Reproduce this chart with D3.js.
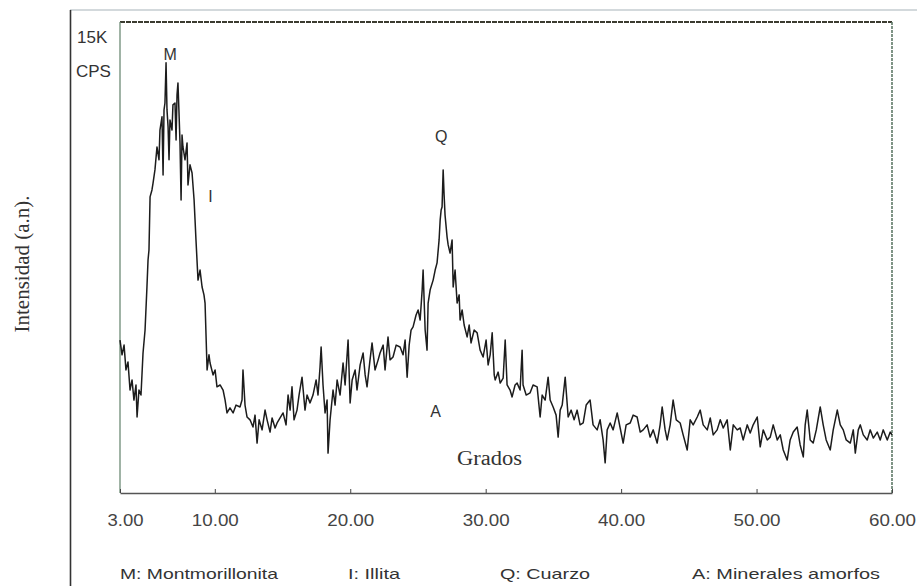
<html>
<head>
    <title>Difractograma</title>
    <style>
        body { margin: 0; background: white; }
        svg { display: block; }
    </style>
</head>
<body>
    <svg id="container" width="917" height="586"></svg>
    <script src="https://d3js.org/d3.v7.min.js"></script>
    <script>
        // 2-theta angles (degrees) and intensity (counts per second)
        let twoTheta = [
            3.00, 3.15, 3.30, 3.44, 3.59, 3.74, 3.89, 4.03, 4.18, 4.26, 4.40, 4.55, 4.70, 4.85, 4.99,
            5.07, 5.14, 5.22, 5.36, 5.44, 5.58, 5.73, 5.88, 5.95, 6.10, 6.18, 6.25, 6.32, 6.40, 6.47,
            6.55, 6.62, 6.69, 6.84, 6.91, 7.06, 7.14, 7.21, 7.28, 7.35, 7.43, 7.51, 7.58, 7.65, 7.80,
            7.95, 8.02, 8.17, 8.32, 8.47, 8.54, 8.61, 8.76, 8.91, 9.06, 9.20, 9.28, 9.43, 9.57, 9.65,
            9.87, 10.02, 10.16, 10.39, 10.61, 10.76, 10.90, 11.12, 11.35, 11.57, 11.86, 12.01, 12.08, 12.23, 12.38,
            12.60, 12.82, 12.97, 13.12, 13.27, 13.49, 13.71, 13.86, 14.08, 14.23, 14.45, 14.60, 14.82, 15.04, 15.26,
            15.41, 15.56, 15.70, 15.85, 16.07, 16.22, 16.44, 16.66, 16.81, 17.03, 17.25, 17.48, 17.62, 17.77, 17.85,
            17.99, 18.14, 18.29, 18.36, 18.51, 18.73, 18.88, 19.03, 19.25, 19.47, 19.62, 19.84, 19.99, 20.14, 20.36,
            20.50, 20.73, 20.95, 21.10, 21.24, 21.46, 21.61, 21.83, 22.06, 22.20, 22.43, 22.57, 22.79, 22.94, 23.16,
            23.39, 23.68, 23.90, 24.05, 24.20, 24.35, 24.49, 24.64, 24.86, 25.01, 25.16, 25.31, 25.38, 25.53, 25.67,
            25.75, 25.90, 26.12, 26.27, 26.41, 26.56, 26.64, 26.71, 26.78, 26.86, 26.93, 27.00, 27.15, 27.23, 27.37,
            27.52, 27.60, 27.74, 27.89, 28.04, 28.11, 28.26, 28.41, 28.63, 28.78, 28.92, 29.15, 29.37, 29.59, 29.81,
            30.03, 30.18, 30.33, 30.48, 30.63, 30.70, 30.92, 31.07, 31.29, 31.44, 31.58, 31.80, 31.95, 32.17, 32.32,
            32.54, 32.69, 32.76, 32.99, 33.28, 33.50, 33.80, 34.02, 34.17, 34.39, 34.61, 34.76, 34.98, 35.20, 35.35,
            35.50, 35.65, 35.87, 36.09, 36.31, 36.53, 36.75, 36.97, 37.20, 37.42, 37.71, 37.93, 38.23, 38.45, 38.67,
            38.82, 38.97, 39.19, 39.41, 39.71, 39.93, 40.15, 40.37, 40.67, 40.89, 41.18, 41.41, 41.63, 41.92, 42.14,
            42.37, 42.66, 42.88, 43.03, 43.25, 43.40, 43.62, 43.84, 44.07, 44.36, 44.58, 44.88, 45.10, 45.32, 45.62,
            45.84, 46.06, 46.36, 46.58, 46.80, 47.09, 47.32, 47.54, 47.83, 48.06, 48.28, 48.57, 48.79, 49.01, 49.31,
            49.53, 49.75, 50.05, 50.27, 50.49, 50.79, 51.01, 51.23, 51.53, 51.75, 51.97, 52.26, 52.48, 52.71, 53.00,
            53.22, 53.45, 53.59, 53.74, 53.96, 54.18, 54.41, 54.70, 54.92, 55.14, 55.44, 55.66, 55.96, 56.18, 56.40,
            56.62, 56.92, 57.14, 57.29, 57.51, 57.66, 57.88, 58.17, 58.39, 58.62, 58.91, 59.13, 59.35, 59.65, 59.87,
            60.00
        ]
        let cps = [
            4870, 4400, 4710, 3920, 4170, 3280, 3600, 2960, 3440, 2420, 3280, 3120, 4460, 5190, 6560,
            7420, 7740, 9430, 9650, 9870, 10290, 11020, 10610, 11560, 11980, 10130, 12200, 12420, 13700, 12200,
            11660, 10610, 11880, 11560, 12360, 12420, 11240, 12680, 13060, 12200, 11150, 9330, 11400, 11020, 10610,
            11150, 9810, 10450, 10190, 9330, 8700, 8060, 6780, 7100, 6560, 6310, 6050, 3920, 4400, 4140,
            3760, 3920, 3380, 3440, 3280, 2960, 2550, 2710, 2550, 2800, 2740, 2960, 3920, 2800, 2420,
            2330, 2100, 2480, 1590, 2330, 2010, 2640, 2330, 1940, 2390, 2070, 2230, 2390, 2550, 2170,
            3120, 2640, 3380, 2330, 2640, 3120, 3690, 2640, 3120, 2870, 3120, 3600, 3120, 4010, 4650,
            3440, 2550, 2960, 1270, 2330, 3280, 2800, 3600, 3120, 4140, 3440, 4870, 2870, 3600, 3920,
            3280, 4080, 4460, 3760, 3380, 4240, 4780, 3920, 4240, 4460, 4710, 3920, 4970, 4240, 4330,
            4710, 4650, 4400, 4870, 3690, 4710, 5190, 5290, 5670, 5830, 5510, 6470, 7100, 5190, 4550,
            6050, 6470, 6780, 7100, 7330, 8060, 8700, 9010, 9110, 10290, 9490, 8850, 8150, 7900, 7640,
            8060, 6560, 7100, 6050, 6310, 5510, 5830, 5350, 4970, 5350, 4780, 5190, 5100, 4550, 4330,
            4870, 4080, 4400, 5100, 3760, 3600, 3850, 3500, 3660, 4870, 3440, 3280, 3060, 3440, 3500,
            3280, 4550, 3440, 3120, 3190, 3440, 3380, 2420, 3120, 2960, 3690, 2960, 2740, 2480, 1780,
            2640, 2800, 3690, 2420, 2640, 2330, 2640, 2170, 2230, 2800, 2960, 2170, 2010, 2330, 1690,
            960, 2010, 2230, 2010, 2550, 2070, 1590, 2170, 2230, 2480, 2420, 1940, 2010, 2170, 1780,
            2010, 1590, 2170, 2740, 2010, 1690, 2170, 2960, 2330, 2230, 1850, 1370, 2330, 2170, 2420,
            2640, 2170, 2010, 2390, 1850, 2010, 2330, 2070, 2330, 1370, 2170, 2010, 2070, 1690, 2170,
            1910, 2170, 2420, 1470, 2010, 1690, 1780, 2170, 1690, 1850, 1370, 1050, 1690, 1940, 2100,
            1530, 1150, 2170, 2640, 1690, 1590, 2010, 2740, 2170, 1690, 1370, 2010, 2640, 2170, 2010,
            1690, 1590, 2010, 1270, 2010, 2170, 1850, 1690, 2010, 1750, 1940, 1690, 2010, 1690, 1940,
            1850
        ]

        // axis ticks
        let tickAngles = [3, 10, 20, 30, 40, 50, 60]

        // peak markers: letter, angle, height
        let peakNames = ["M", "I", "Q", "A"]
        let peakAngles = [6.7, 9.68, 26.71, 26.3]
        let peakHeights = [13790, 9270, 11180, 2420]

        // legend texts
        let legendItems = ["M: Montmorillonita", "I: Illita", "Q: Cuarzo", "A: Minerales amorfos"]

        let container = d3.select("#container")
        let plotLeft = 120, plotRight = 892, plotTop = 22, plotBottom = 493

        let xScale = d3.scaleLinear().domain([3, 60]).range([plotLeft, plotRight])
        let yScale = d3.scaleLinear().domain([0, 15000]).range([plotBottom, plotTop])

        // outer frame of the figure
        container.append("line")
            .attr("x1", 70).attr("x2", 917).attr("y1", 10).attr("y2", 10)
            .style("stroke", "#c5ccd0").style("stroke-width", 1.5)
        container.append("line")
            .attr("x1", 70.5).attr("x2", 70.5).attr("y1", 10).attr("y2", 586)
            .style("stroke", "#333").style("stroke-width", 1.6)

        // plot box
        container.append("line")
            .attr("x1", plotLeft).attr("x2", plotRight).attr("y1", plotTop).attr("y2", plotTop)
            .style("stroke", "#3b3b30").style("stroke-width", 2).style("stroke-dasharray", "5,1")
        container.append("line")
            .attr("x1", plotLeft).attr("x2", plotLeft).attr("y1", plotTop).attr("y2", plotBottom)
            .style("stroke", "#6d8a76").style("stroke-width", 1.3)
        container.append("line")
            .attr("x1", plotRight).attr("x2", plotRight).attr("y1", plotTop).attr("y2", plotBottom)
            .style("stroke", "#5f7a68").style("stroke-width", 1.6).style("stroke-dasharray", "3,1")

        let xAxis = d3.axisBottom(xScale)
            .tickValues(tickAngles)
            .tickFormat(d3.format(".2f"))
            .tickSizeInner(-4)
            .tickSizeOuter(0)
            .tickPadding(21)

        let xg = container.append("g")
            .attr("transform", "translate(0," + plotBottom + ")")
            .call(xAxis)
        xg.select(".domain").style("stroke", "#555").style("stroke-width", 1.3)
        xg.selectAll(".tick line").style("stroke", "#444")
        xg.selectAll(".tick text")
            .style("font-family", "Liberation Sans, Arial, sans-serif")
            .style("font-size", "17px")
            .style("fill", "#444")
            .attr("textLength", (d, i) => i == 0 ? 36 : 47)
            .attr("lengthAdjust", "spacingAndGlyphs")
            .attr("dx", (d, i) => i == 0 ? 5 : 0)

        // scan line
        let line = d3.line()
            .x((d, i) => xScale(twoTheta[i]))
            .y(d => yScale(d))

        container.append("path")
            .datum(cps)
            .attr("d", line)
            .style("fill", "none")
            .style("stroke", "#1c1c1c")
            .style("stroke-width", 1.5)
            .style("stroke-linejoin", "round")

        // y units at the top left
        container.append("text")
            .attr("x", 77).attr("y", 43)
            .text("15K")
            .style("font-family", "Liberation Sans, Arial, sans-serif")
            .style("font-size", "17px").style("fill", "#333")
        container.append("text")
            .attr("x", 76).attr("y", 77)
            .text("CPS")
            .style("font-family", "Liberation Sans, Arial, sans-serif")
            .style("font-size", "17px").style("fill", "#333")

        // y title
        container.append("text")
            .attr("transform", "translate(29,264) rotate(-90)")
            .attr("text-anchor", "middle")
            .text("Intensidad (a.n).")
            .style("font-family", "Liberation Serif, Times New Roman, serif")
            .style("font-size", "21px").style("fill", "#333")

        // x title
        container.append("text")
            .attr("x", 457).attr("y", 465)
            .text("Grados")
            .attr("textLength", 65)
            .attr("lengthAdjust", "spacingAndGlyphs")
            .style("font-family", "Liberation Serif, Times New Roman, serif")
            .style("font-size", "20px").style("fill", "#333")

        // peak letters
        container.selectAll(".peak")
            .data(peakNames)
            .enter()
            .append("text")
            .attr("class", "peak")
            .attr("x", (d, i) => xScale(peakAngles[i]))
            .attr("y", (d, i) => yScale(peakHeights[i]))
            .attr("text-anchor", "middle")
            .text(d => d)
            .style("font-family", "Liberation Sans, Arial, sans-serif")
            .style("font-size", "16px").style("fill", "#333")

        // legend along the bottom
        let legendStart = [120, 348, 500, 692]
        let legendWidth = [158, 52, 90, 188]
        container.selectAll(".legend")
            .data(legendItems)
            .enter()
            .append("text")
            .attr("class", "legend")
            .attr("x", (d, i) => legendStart[i])
            .attr("y", 579)
            .attr("textLength", (d, i) => legendWidth[i])
            .attr("lengthAdjust", "spacingAndGlyphs")
            .text(d => d)
            .style("font-family", "Liberation Sans, Arial, sans-serif")
            .style("font-size", "15px").style("fill", "#333")
    </script>
</body>
</html>
